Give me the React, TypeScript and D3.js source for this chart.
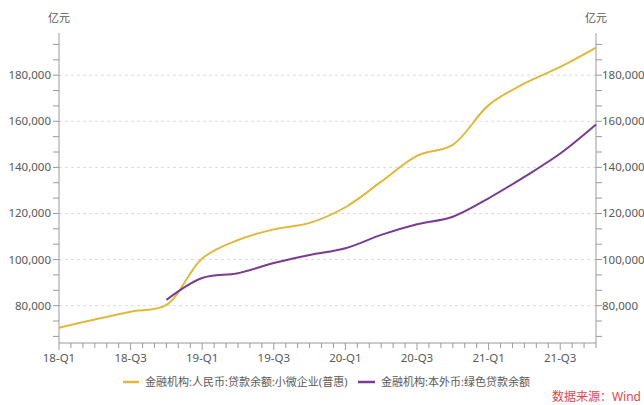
import React from 'react';
import * as d3 from 'd3';

// quarter-end months, 18-Q1 .. 21-Q4
const quarters = [
  '18-Q1', '18-Q2', '18-Q3', '18-Q4',
  '19-Q1', '19-Q2', '19-Q3', '19-Q4',
  '20-Q1', '20-Q2', '20-Q3', '20-Q4',
  '21-Q1', '21-Q2', '21-Q3', '21-Q4',
];

// 金融机构:人民币:贷款余额:小微企业(普惠), 亿元
const smallMicro = [
  70400, 74000, 77400, 80300,
  100500, 108500, 113100, 115900,
  122700, 133800, 145000, 149800,
  167000, 176400, 183600, 192000,
];

// 金融机构:本外币:绿色贷款余额, 亿元 (from 18-Q4)
const greenStart = 3;
const green = [
  82500,
  92000, 94100, 98500, 102000,
  104900, 110700, 115300, 118600,
  126600, 135900, 146000, 158600,
];

const xTickLabels = ['18-Q1', '18-Q3', '19-Q1', '19-Q3', '20-Q1', '20-Q3', '21-Q1', '21-Q3'];
const yTicks = [80000, 100000, 120000, 140000, 160000, 180000];

const legendNames = ['金融机构:人民币:贷款余额:小微企业(普惠)', '金融机构:本外币:绿色贷款余额'];
const colors = ['#E2B83A', '#7A3C91'];

const width = 644;
const height = 405;
const padding = { top: 33, right: 48, bottom: 62, left: 59 };

const font = '"Noto Sans", "Noto Sans CJK SC", sans-serif';
const textColor = '#595959';
const axisColor = '#9a9a9a';

const App = () => {
  const x = d3
    .scaleLinear()
    .domain([0, (quarters.length - 1) * 3])
    .range([padding.left, width - padding.right]);

  const y = d3
    .scaleLinear()
    .domain([63800, 198300])
    .range([height - padding.bottom, padding.top]);

  const minorY = d3.range(80000 - 40000 / 3, 198300, 20000 / 3);
  const months = d3.range(0, (quarters.length - 1) * 3 + 1);

  const line = d3
    .line<[number, number]>()
    .x(d => x(d[0]))
    .y(d => y(d[1]))
    .curve(d3.curveCatmullRom.alpha(0.5));

  const yellowPts: [number, number][] = smallMicro.map((v, i) => [i * 3, v]);
  const purplePts: [number, number][] = green.map((v, i) => [(i + greenStart) * 3, v]);

  const [x0, x1] = x.range();
  const [yb, yt] = y.range();

  return (
    <div style={{ position: 'absolute', left: 0, top: 0 }}>
      <svg width={width} height={height} style={{ display: 'block', background: '#fff' }} fontFamily={font}>
        <g className="grid">
          {yTicks.map(t => (
            <line key={t} x1={x0} x2={x1} y1={y(t)} y2={y(t)}
              stroke="#dcdcdc" strokeDasharray="3,3" strokeWidth={1} />
          ))}
        </g>

        <g className="axis">
          <line x1={x0} x2={x0} y1={yt} y2={yb} stroke={axisColor} />
          <line x1={x1} x2={x1} y1={yt} y2={yb} stroke={axisColor} />
          <line x1={x0} x2={x1} y1={yb} y2={yb} stroke={axisColor} />
          {minorY.map(t => (
            <g key={t}>
              <line x1={x0 - 6} x2={x0} y1={y(t)} y2={y(t)} stroke={axisColor} />
              <line x1={x1} x2={x1 + 6} y1={y(t)} y2={y(t)} stroke={axisColor} />
            </g>
          ))}
          {months.map(m => (
            <line key={m} x1={x(m)} x2={x(m)} y1={yb} y2={yb + (m % 6 === 0 ? 7 : 5)} stroke={axisColor} />
          ))}
          {yTicks.map(t => (
            <g key={t} fontSize={11.5} fill={textColor}>
              <text x={x0 - 8} y={y(t)} dy="0.35em" textAnchor="end">{d3.format(',')(t)}</text>
              <text x={x1 + 6} y={y(t)} dy="0.35em" textAnchor="start">{d3.format(',')(t)}</text>
            </g>
          ))}
          {xTickLabels.map((l, i) => (
            <text key={l} x={x(i * 6)} y={yb + 15} dy="0.35em" textAnchor="middle"
              fontSize={11.5} fill={textColor}>{l}</text>
          ))}
          <text x={x0} y={18} dy="0.35em" textAnchor="middle" fontSize={11} fill={textColor}>亿元</text>
          <text x={x1} y={18} dy="0.35em" textAnchor="middle" fontSize={11} fill={textColor}>亿元</text>
        </g>

        <g className="data" fill="none" strokeWidth={2}>
          <path d={line(yellowPts) || ''} stroke={colors[0]} />
          <path d={line(purplePts) || ''} stroke={colors[1]} />
        </g>

        <g className="legend" fontSize={11} fill={textColor}>
          <line x1={123} x2={139} y1={382} y2={382} stroke={colors[0]} strokeWidth={2.5} />
          <text x={145} y={382} dy="0.35em">{legendNames[0]}</text>
          <line x1={358} x2={375} y1={382} y2={382} stroke={colors[1]} strokeWidth={2.5} />
          <text x={381} y={382} dy="0.35em">{legendNames[1]}</text>
        </g>

        <text x={641} y={397} dy="0.35em" textAnchor="end" fontSize={12} fill="#E0484B">数据来源：Wind</text>
      </svg>
    </div>
  );
};

export default App;
